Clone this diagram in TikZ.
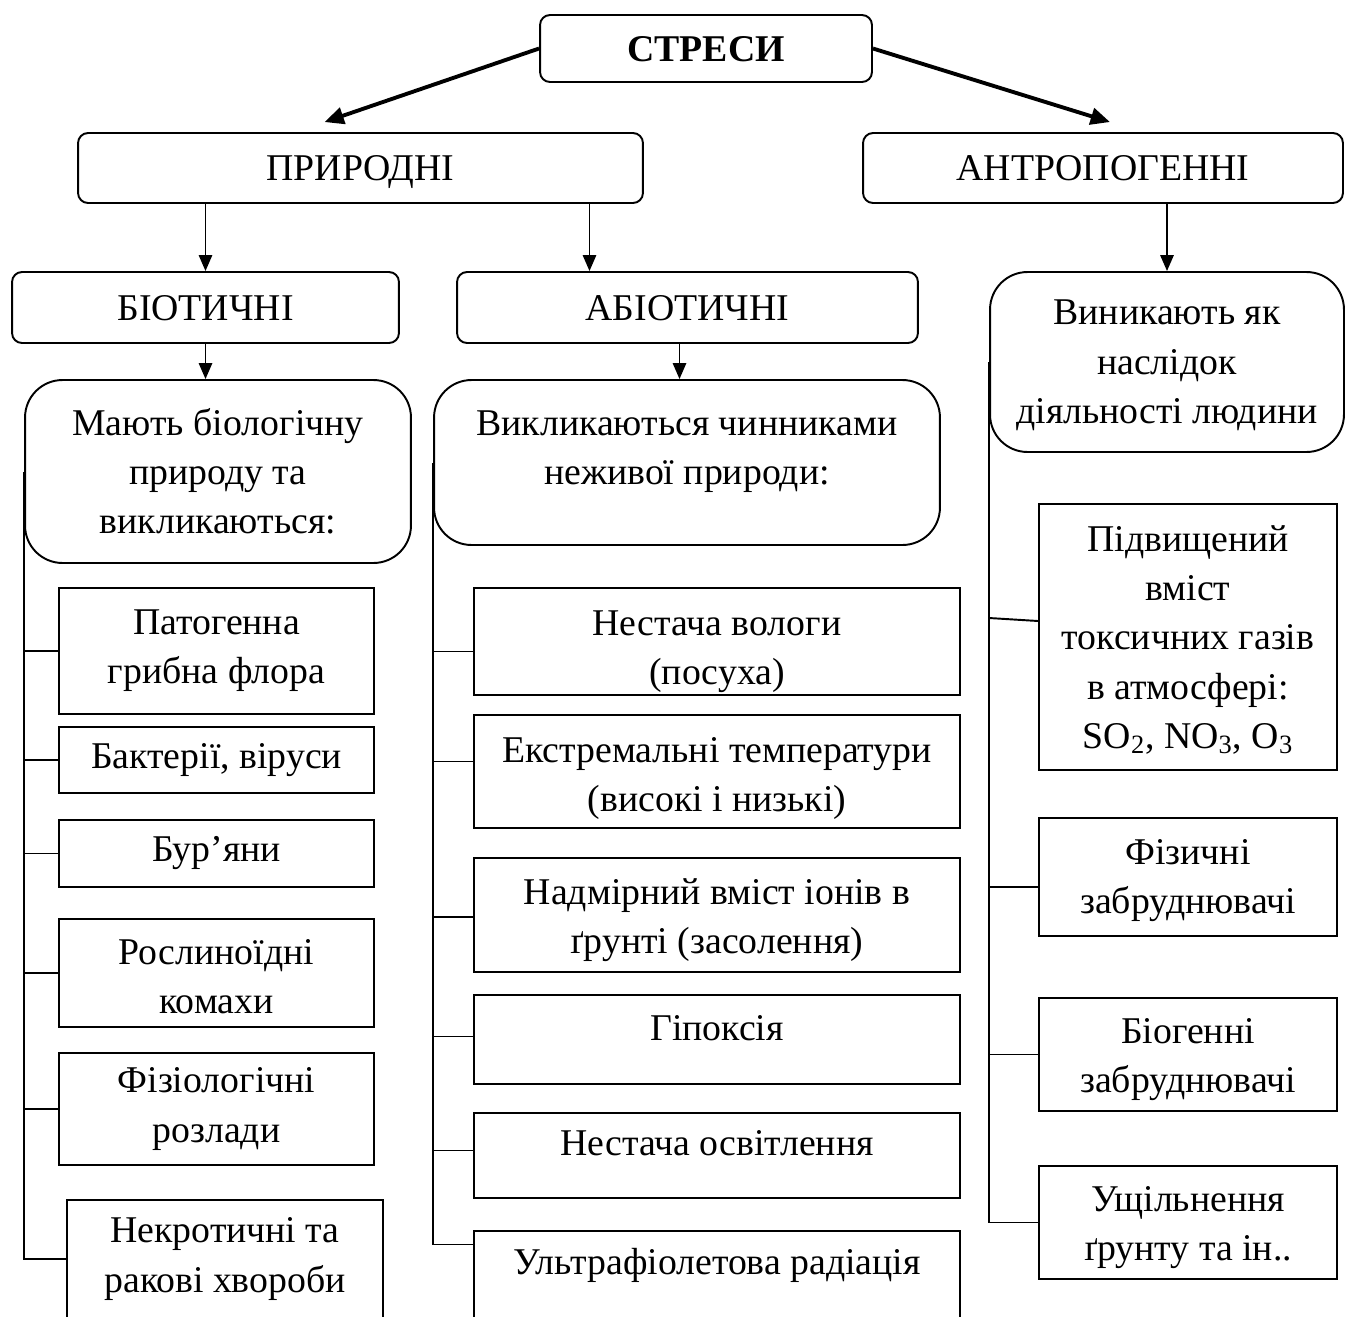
\documentclass[tikz,border=0pt]{standalone}
\usepackage{fontspec}
\setmainfont{Liberation Serif}
\usetikzlibrary{arrows.meta,calc}

\begin{document}
\begin{tikzpicture}[x=0.02cm,y=-0.02cm,
    font=\fontsize{21.5}{28}\selectfont,
    box/.style={draw,line width=1.1pt,align=center,inner sep=0pt},
    head/.style={box,rounded corners=0.2cm,text depth=0pt},
    desc/.style={box,rounded corners=0.75cm},
    arr/.style={line width=1.1pt,-{Triangle[length=9pt,width=7.5pt]}},
    bigarr/.style={line width=2.2pt,-{Triangle[length=11pt,width=9.5pt]}},
    link/.style={line width=1.1pt}]
  \useasboundingbox (0,0) rectangle (1346,1316);

  \node[head,minimum width=6.64cm,minimum height=1.34cm] (stresy) at (706,48.5) {\textbf{СТРЕСИ}};
  \node[head,minimum width=11.3cm,minimum height=1.4cm] (pryrodni) at (360.5,168) {ПРИРОДНІ};
  \node[head,minimum width=9.6cm,minimum height=1.4cm] (antrop) at (1103,168) {АНТРОПОГЕННІ};
  \node[head,minimum width=7.74cm,minimum height=1.42cm] (biotic) at (205.5,307.5) {БІОТИЧНІ};
  \node[head,minimum width=9.22cm,minimum height=1.42cm] (abiotic) at (687.5,307.5) {АБІОТИЧНІ};
  \node[desc,minimum width=7.72cm,minimum height=3.66cm] (biodesc) at (218,471.5)
    {Мають біологічну\\природу та\\викликаються:};
  \node[desc,minimum width=10.12cm,minimum height=3.3cm,text depth=17pt] (abiodesc) at (687,462.5)
    {Викликаються чинниками\\неживої природи:};
  \node[desc,minimum width=7.08cm,minimum height=3.6cm] (antrodesc) at (1167,362)
    {\rule{0pt}{18pt}Виникають як\\наслідок\\діяльності людини};

  \node[box,minimum width=6.3cm,minimum height=2.52cm] (p1) at (216.5,651) {Патогенна\\грибна флора};
  \node[box,minimum width=6.3cm,minimum height=1.32cm] (p2) at (216.5,760) {Бактерії, віруси};
  \node[box,minimum width=6.3cm,minimum height=1.34cm] (p3) at (216.5,853.5) {Бур’яни};
  \node[box,minimum width=6.3cm,minimum height=2.16cm] (p4) at (216.5,973) {\rule{0pt}{18pt}Рослиноїдні\\комахи};
  \node[box,minimum width=6.3cm,minimum height=2.24cm] (p5) at (216.5,1109) {Фізіологічні\\розлади};
  \node[box,minimum width=6.32cm,minimum height=2.36cm] (p6) at (225,1259) {Некротичні та\\ракові хвороби};

  \node[box,minimum width=9.72cm,minimum height=2.14cm] (a1) at (717,641.5) {\rule{0pt}{25.5pt}Нестача вологи\\(посуха)};
  \node[box,minimum width=9.72cm,minimum height=2.26cm] (a2) at (717,771.5) {\rule{0pt}{22pt}Екстремальні температури\\(високі і низькі)};
  \node[box,minimum width=9.72cm,minimum height=2.28cm] (a3) at (717,915) {\rule{0pt}{21pt}Надмірний вміст іонів в\\ґрунті (засолення)};
  \node[box,minimum width=9.72cm,minimum height=1.78cm,text depth=12.6pt] (a4) at (717,1039.5) {Гіпоксія};
  \node[box,minimum width=9.72cm,minimum height=1.7cm,text depth=14pt] (a5) at (717,1155.5) {Нестача освітлення};
  \node[box,minimum width=9.72cm,minimum height=1.78cm,text depth=16pt] (a6) at (717,1275.5) {Ультрафіолетова радіація};

  \node[box,minimum width=5.96cm,minimum height=5.32cm] (r1) at (1188,637)
    {\rule{0pt}{18pt}Підвищений\\вміст\\токсичних газів\\в атмосфері:\\SO\textsubscript{2}, NO\textsubscript{3}, O\textsubscript{3}};
  \node[box,minimum width=5.96cm,minimum height=2.36cm] (r2) at (1188,877) {\rule{0pt}{18pt}Фізичні\\забруднювачі};
  \node[box,minimum width=5.96cm,minimum height=2.26cm] (r3) at (1188,1054.5) {\rule{0pt}{20pt}Біогенні\\забруднювачі};
  \node[box,minimum width=5.96cm,minimum height=2.26cm] (r4) at (1188,1222.5) {\rule{0pt}{20pt}Ущільнення\\ґрунту та ін..};

  \draw[bigarr] (stresy.west) -- ($(pryrodni.north)+(-36,-10)$);
  \draw[bigarr] (stresy.east) -- ($(antrop.north)+(7,-10)$);

  \coordinate (pa) at ($(pryrodni.south)+(229,0)$);
  \coordinate (ab) at ($(abiotic.south)+(-8,0)$);
  \draw[arr] (biotic.north |- pryrodni.south) -- (biotic.north);
  \draw[arr] (pa) -- (pa |- abiotic.north);
  \draw[arr] (antrodesc.north |- antrop.south) -- (antrodesc.north);
  \draw[arr] (biotic.south) -- (biotic.south |- biodesc.north);
  \draw[arr] (ab) -- (ab |- abiodesc.north);

  \draw[link] (biodesc.west) |- (p6.west);
  \foreach \n in {p1,p2,p3,p4,p5}
    \draw[link] (biodesc.west |- \n.west) -- (\n.west);

  \coordinate (a6t) at ($(a6.west)+(0,-31)$);
  \draw[link] (abiodesc.west) |- (a6t);
  \foreach \n/\d in {a1/10,a2/-10,a3/2,a4/-3,a5/-5}
    \draw[link] (abiodesc.west |- {$(\n.west)+(0,\d)$}) -- ($(\n.west)+(0,\d)$);

  \draw[link] (antrodesc.west) |- (r4.west);
  \draw[link] ($(antrodesc.west |- r1.west)+(0,-19)$) -- ($(r1.west)+(0,-16)$);
  \draw[link] (antrodesc.west |- {$(r2.west)+(0,10)$}) -- ($(r2.west)+(0,10)$);
  \draw[link] (antrodesc.west |- r3.west) -- (r3.west);
\end{tikzpicture}
\end{document}
